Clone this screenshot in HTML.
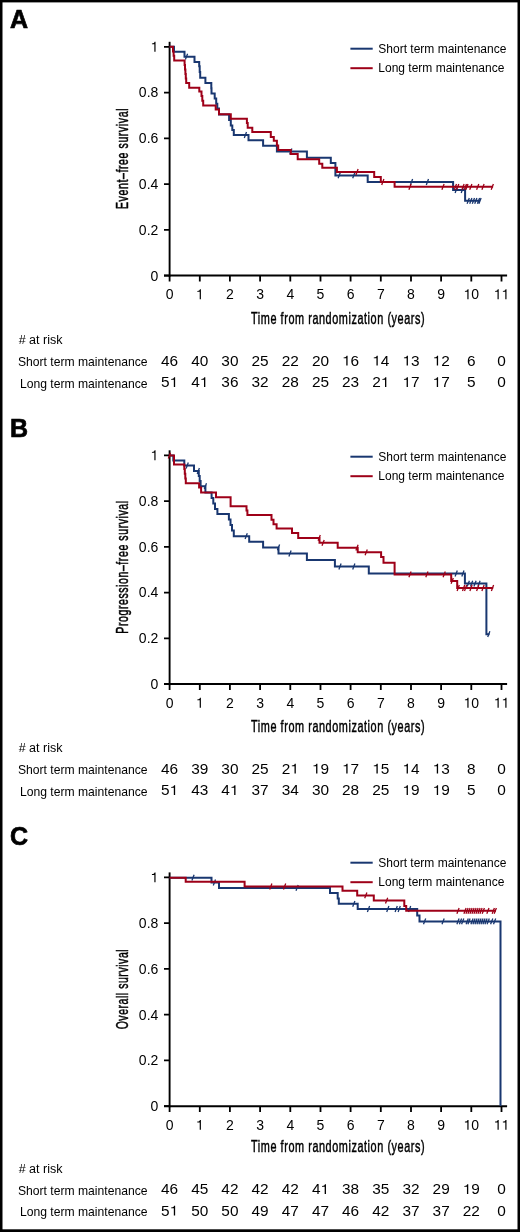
<!DOCTYPE html>
<html><head><meta charset="utf-8"><style>
html,body{margin:0;padding:0;background:#fff;overflow:hidden;}
svg{display:block;will-change:transform;}
text{opacity:0.999;font-family:"Liberation Sans", sans-serif;fill:#000;}
.c{font-weight:normal;stroke:#000;stroke-width:0.5px;letter-spacing:0.9px;}
</style></head><body>
<svg width="520" height="1232" viewBox="0 0 520 1232">
<rect x="0" y="0" width="520" height="1232" fill="#000"/>
<rect x="2.5" y="2.4" width="515.0" height="1226.9" fill="#fff"/>
<text x="10.0" y="28.1" font-size="25" font-weight="bold" stroke="#000" stroke-width="0.7">A</text>
<line x1="350.4" y1="48.7" x2="372.7" y2="48.7" stroke="#193770" stroke-width="2"/>
<line x1="350.4" y1="68.2" x2="372.7" y2="68.2" stroke="#9e0018" stroke-width="2"/>
<text x="378.3" y="52.9" font-size="12">Short term maintenance</text>
<text x="378.3" y="72.3" font-size="12">Long term maintenance</text>
<line x1="169.6" y1="41.8" x2="169.6" y2="276.6" stroke="#000" stroke-width="1.9"/>
<line x1="164" y1="275.6" x2="507.1" y2="275.6" stroke="#000" stroke-width="2"/>
<g transform="translate(158.30,280.50) scale(1.0,1)"><text x="-7.79" y="0" font-size="14">0</text></g>
<g transform="translate(158.30,234.74) scale(1.0,1)"><text x="-19.46" y="0" font-size="14">0</text><text x="-11.68" y="0" font-size="14">.</text><text x="-7.79" y="0" font-size="14">2</text></g>
<g transform="translate(158.30,188.98) scale(1.0,1)"><text x="-19.46" y="0" font-size="14">0</text><text x="-11.68" y="0" font-size="14">.</text><text x="-7.79" y="0" font-size="14">4</text></g>
<g transform="translate(158.30,143.22) scale(1.0,1)"><text x="-19.46" y="0" font-size="14">0</text><text x="-11.68" y="0" font-size="14">.</text><text x="-7.79" y="0" font-size="14">6</text></g>
<g transform="translate(158.30,97.46) scale(1.0,1)"><text x="-19.46" y="0" font-size="14">0</text><text x="-11.68" y="0" font-size="14">.</text><text x="-7.79" y="0" font-size="14">8</text></g>
<g transform="translate(158.30,51.70) scale(1.0,1)"><path d="M-2.76,0.00L-2.76,-9.84L-3.70,-9.84L-4.12,-8.96L-4.99,-8.40L-6.37,-8.19L-6.37,-7.35L-3.95,-7.35L-3.95,0.00Z" fill="#000"/></g>
<g transform="translate(169.60,299.20) scale(1.0,1)"><text x="-3.89" y="0" font-size="14">0</text></g>
<g transform="translate(199.77,299.20) scale(1.0,1)"><path d="M1.13,0.00L1.13,-9.84L0.19,-9.84L-0.23,-8.96L-1.09,-8.40L-2.48,-8.19L-2.48,-7.35L-0.06,-7.35L-0.06,0.00Z" fill="#000"/></g>
<g transform="translate(229.94,299.20) scale(1.0,1)"><text x="-3.89" y="0" font-size="14">2</text></g>
<g transform="translate(260.11,299.20) scale(1.0,1)"><text x="-3.89" y="0" font-size="14">3</text></g>
<g transform="translate(290.28,299.20) scale(1.0,1)"><text x="-3.89" y="0" font-size="14">4</text></g>
<g transform="translate(320.45,299.20) scale(1.0,1)"><text x="-3.89" y="0" font-size="14">5</text></g>
<g transform="translate(350.62,299.20) scale(1.0,1)"><text x="-3.89" y="0" font-size="14">6</text></g>
<g transform="translate(380.79,299.20) scale(1.0,1)"><text x="-3.89" y="0" font-size="14">7</text></g>
<g transform="translate(410.96,299.20) scale(1.0,1)"><text x="-3.89" y="0" font-size="14">8</text></g>
<g transform="translate(441.13,299.20) scale(1.0,1)"><text x="-3.89" y="0" font-size="14">9</text></g>
<g transform="translate(471.30,299.20) scale(1.0,1)"><text x="0.00" y="0" font-size="14">0</text><path d="M-2.76,0.00L-2.76,-9.84L-3.70,-9.84L-4.12,-8.96L-4.99,-8.40L-6.37,-8.19L-6.37,-7.35L-3.95,-7.35L-3.95,0.00Z" fill="#000"/></g>
<g transform="translate(501.47,299.20) scale(1.0,1)"><path d="M-2.76,0.00L-2.76,-9.84L-3.70,-9.84L-4.12,-8.96L-4.99,-8.40L-6.37,-8.19L-6.37,-7.35L-3.95,-7.35L-3.95,0.00ZM5.03,0.00L5.03,-9.84L4.09,-9.84L3.67,-8.96L2.80,-8.40L1.41,-8.19L1.41,-7.35L3.84,-7.35L3.84,0.00Z" fill="#000"/></g>
<path d="M164,275.6H169.6M164,229.8H169.6M164,184.1H169.6M164,138.3H169.6M164,92.6H169.6M164,46.8H169.6M169.6,275.6V281.4M199.8,275.6V281.4M229.9,275.6V281.4M260.1,275.6V281.4M290.3,275.6V281.4M320.5,275.6V281.4M350.6,275.6V281.4M380.8,275.6V281.4M411.0,275.6V281.4M441.1,275.6V281.4M471.3,275.6V281.4M501.5,275.6V281.4" stroke="#000" stroke-width="1.8" fill="none"/>
<text x="0" y="0" font-size="17" transform="translate(251,323.5) scale(0.639,1)" class="c">Time from randomization (years)</text>
<text x="0" y="0" font-size="17" text-anchor="middle" transform="translate(128,158.5) rotate(-90) scale(0.626,1)" class="c">Event&#8211;free survival</text>
<polyline points="169.6,46.8 174.0,46.8 174.0,51.7 184.5,51.7 184.5,56.7 194.5,56.7 194.5,62.0 199.2,62.0 199.2,66.3 199.7,66.3 199.7,72.0 200.2,72.0 200.2,77.7 205.4,77.7 205.4,83.0 211.3,83.0 211.3,88.3 211.5,88.3 211.5,93.5 214.7,93.5 214.7,98.5 216.2,98.5 216.2,103.8 217.3,103.8 217.3,108.6 219.0,108.6 219.0,114.5 229.1,114.5 229.1,120.0 230.8,120.0 230.8,125.4 232.3,125.4 232.3,130.0 233.8,130.0 233.8,135.0 248.5,135.0 248.5,140.3 263.1,140.3 263.1,145.8 276.9,145.8 276.9,151.5 306.9,151.5 306.9,157.7 330.8,157.7 330.8,163.1 335.4,163.1 335.4,175.4 367.7,175.4 367.7,182.0 453.1,182.0 453.1,190.0 465.1,190.0 465.1,200.8 480.0,200.8" stroke="#193770" stroke-width="2" fill="none" stroke-linejoin="miter" stroke-linecap="butt"/>
<path d="M185.4,59.6L187.6,53.8M244.3,137.9L246.5,132.1M289.7,154.4L291.9,148.6M338.1,178.3L340.3,172.5M352.7,178.3L354.9,172.5M410.4,184.9L412.6,179.1M426.3,184.9L428.5,179.1M455.1,192.9L457.3,187.1M461.2,192.9L463.4,187.1M467.1,203.7L469.3,197.9M469.7,203.7L471.9,197.9M472.3,203.7L474.5,197.9M474.7,203.7L476.9,197.9M477.4,203.7L479.6,197.9M478.9,203.7L481.1,197.9" stroke="#193770" stroke-width="1.3" fill="none"/>
<polyline points="169.6,46.8 173.0,46.8 173.0,51.4 173.6,51.4 173.6,55.8 174.2,55.8 174.2,60.4 184.6,60.4 184.6,65.0 185.0,65.0 185.0,69.5 185.4,69.5 185.4,74.0 185.8,74.0 185.8,78.5 186.2,78.5 186.2,83.0 189.2,83.0 189.2,87.7 199.3,87.7 199.3,91.5 201.5,91.5 201.5,96.0 202.3,96.0 202.3,100.7 203.2,100.7 203.2,105.4 215.7,105.4 215.7,109.5 219.0,109.5 219.0,114.3 230.8,114.3 230.8,118.7 246.9,118.7 246.9,123.0 247.7,123.0 247.7,127.7 252.3,127.7 252.3,132.0 270.8,132.0 270.8,136.9 273.8,136.9 273.8,140.8 276.9,140.8 276.9,145.4 278.2,145.4 278.2,150.0 290.8,150.0 290.8,154.0 297.7,154.0 297.7,159.2 319.2,159.2 319.2,163.8 322.3,163.8 322.3,167.7 336.9,167.7 336.9,172.0 374.2,172.0 374.2,176.9 380.8,176.9 380.8,182.0 394.6,182.0 394.6,186.8 493.1,186.8" stroke="#9e0018" stroke-width="2" fill="none" stroke-linejoin="miter" stroke-linecap="butt"/>
<path d="M355.9,174.9L358.1,169.1M381.7,184.9L383.9,179.1M408.9,189.7L411.1,183.9M441.9,189.7L444.1,183.9M454.3,189.7L456.5,183.9M456.6,189.7L458.8,183.9M461.9,189.7L464.1,183.9M464.3,189.7L466.5,183.9M465.8,189.7L468.0,183.9M469.7,189.7L471.9,183.9M476.6,189.7L478.8,183.9M481.9,189.7L484.1,183.9M491.2,189.7L493.4,183.9" stroke="#9e0018" stroke-width="1.3" fill="none"/>
<text x="18.7" y="344.2" font-size="12.5"># at risk</text>
<text x="147.5" y="366.1" font-size="12.15" text-anchor="end">Short term maintenance</text>
<text x="147.5" y="387.7" font-size="12.15" text-anchor="end">Long term maintenance</text>
<g transform="translate(169.60,365.60) scale(1.1,1)"><text x="-7.79" y="0" font-size="14">4</text><text x="0.00" y="0" font-size="14">6</text></g>
<g transform="translate(199.77,365.60) scale(1.1,1)"><text x="-7.79" y="0" font-size="14">4</text><text x="0.00" y="0" font-size="14">0</text></g>
<g transform="translate(229.94,365.60) scale(1.1,1)"><text x="-7.79" y="0" font-size="14">3</text><text x="0.00" y="0" font-size="14">0</text></g>
<g transform="translate(260.11,365.60) scale(1.1,1)"><text x="-7.79" y="0" font-size="14">2</text><text x="0.00" y="0" font-size="14">5</text></g>
<g transform="translate(290.28,365.60) scale(1.1,1)"><text x="-7.79" y="0" font-size="14">2</text><text x="0.00" y="0" font-size="14">2</text></g>
<g transform="translate(320.45,365.60) scale(1.1,1)"><text x="-7.79" y="0" font-size="14">2</text><text x="0.00" y="0" font-size="14">0</text></g>
<g transform="translate(350.62,365.60) scale(1.1,1)"><text x="0.00" y="0" font-size="14">6</text><path d="M-2.76,0.00L-2.76,-9.84L-3.70,-9.84L-4.12,-8.96L-4.99,-8.40L-6.37,-8.19L-6.37,-7.35L-3.95,-7.35L-3.95,0.00Z" fill="#000"/></g>
<g transform="translate(380.79,365.60) scale(1.1,1)"><text x="0.00" y="0" font-size="14">4</text><path d="M-2.76,0.00L-2.76,-9.84L-3.70,-9.84L-4.12,-8.96L-4.99,-8.40L-6.37,-8.19L-6.37,-7.35L-3.95,-7.35L-3.95,0.00Z" fill="#000"/></g>
<g transform="translate(410.96,365.60) scale(1.1,1)"><text x="0.00" y="0" font-size="14">3</text><path d="M-2.76,0.00L-2.76,-9.84L-3.70,-9.84L-4.12,-8.96L-4.99,-8.40L-6.37,-8.19L-6.37,-7.35L-3.95,-7.35L-3.95,0.00Z" fill="#000"/></g>
<g transform="translate(441.13,365.60) scale(1.1,1)"><text x="0.00" y="0" font-size="14">2</text><path d="M-2.76,0.00L-2.76,-9.84L-3.70,-9.84L-4.12,-8.96L-4.99,-8.40L-6.37,-8.19L-6.37,-7.35L-3.95,-7.35L-3.95,0.00Z" fill="#000"/></g>
<g transform="translate(471.30,365.60) scale(1.1,1)"><text x="-3.89" y="0" font-size="14">6</text></g>
<g transform="translate(501.47,365.60) scale(1.1,1)"><text x="-3.89" y="0" font-size="14">0</text></g>
<g transform="translate(169.60,387.10) scale(1.1,1)"><text x="-7.79" y="0" font-size="14">5</text><path d="M5.03,0.00L5.03,-9.84L4.09,-9.84L3.67,-8.96L2.80,-8.40L1.41,-8.19L1.41,-7.35L3.84,-7.35L3.84,0.00Z" fill="#000"/></g>
<g transform="translate(199.77,387.10) scale(1.1,1)"><text x="-7.79" y="0" font-size="14">4</text><path d="M5.03,0.00L5.03,-9.84L4.09,-9.84L3.67,-8.96L2.80,-8.40L1.41,-8.19L1.41,-7.35L3.84,-7.35L3.84,0.00Z" fill="#000"/></g>
<g transform="translate(229.94,387.10) scale(1.1,1)"><text x="-7.79" y="0" font-size="14">3</text><text x="0.00" y="0" font-size="14">6</text></g>
<g transform="translate(260.11,387.10) scale(1.1,1)"><text x="-7.79" y="0" font-size="14">3</text><text x="0.00" y="0" font-size="14">2</text></g>
<g transform="translate(290.28,387.10) scale(1.1,1)"><text x="-7.79" y="0" font-size="14">2</text><text x="0.00" y="0" font-size="14">8</text></g>
<g transform="translate(320.45,387.10) scale(1.1,1)"><text x="-7.79" y="0" font-size="14">2</text><text x="0.00" y="0" font-size="14">5</text></g>
<g transform="translate(350.62,387.10) scale(1.1,1)"><text x="-7.79" y="0" font-size="14">2</text><text x="0.00" y="0" font-size="14">3</text></g>
<g transform="translate(380.79,387.10) scale(1.1,1)"><text x="-7.79" y="0" font-size="14">2</text><path d="M5.03,0.00L5.03,-9.84L4.09,-9.84L3.67,-8.96L2.80,-8.40L1.41,-8.19L1.41,-7.35L3.84,-7.35L3.84,0.00Z" fill="#000"/></g>
<g transform="translate(410.96,387.10) scale(1.1,1)"><text x="0.00" y="0" font-size="14">7</text><path d="M-2.76,0.00L-2.76,-9.84L-3.70,-9.84L-4.12,-8.96L-4.99,-8.40L-6.37,-8.19L-6.37,-7.35L-3.95,-7.35L-3.95,0.00Z" fill="#000"/></g>
<g transform="translate(441.13,387.10) scale(1.1,1)"><text x="0.00" y="0" font-size="14">7</text><path d="M-2.76,0.00L-2.76,-9.84L-3.70,-9.84L-4.12,-8.96L-4.99,-8.40L-6.37,-8.19L-6.37,-7.35L-3.95,-7.35L-3.95,0.00Z" fill="#000"/></g>
<g transform="translate(471.30,387.10) scale(1.1,1)"><text x="-3.89" y="0" font-size="14">5</text></g>
<g transform="translate(501.47,387.10) scale(1.1,1)"><text x="-3.89" y="0" font-size="14">0</text></g>
<text x="10.0" y="436.7" font-size="25" font-weight="bold" stroke="#000" stroke-width="0.7">B</text>
<line x1="350.4" y1="456.7" x2="372.7" y2="456.7" stroke="#193770" stroke-width="2"/>
<line x1="350.4" y1="476.2" x2="372.7" y2="476.2" stroke="#9e0018" stroke-width="2"/>
<text x="378.3" y="460.9" font-size="12">Short term maintenance</text>
<text x="378.3" y="480.3" font-size="12">Long term maintenance</text>
<line x1="169.6" y1="450.3" x2="169.6" y2="685.1" stroke="#000" stroke-width="1.9"/>
<line x1="164" y1="684.1" x2="507.1" y2="684.1" stroke="#000" stroke-width="2"/>
<g transform="translate(158.30,689.00) scale(1.0,1)"><text x="-7.79" y="0" font-size="14">0</text></g>
<g transform="translate(158.30,643.24) scale(1.0,1)"><text x="-19.46" y="0" font-size="14">0</text><text x="-11.68" y="0" font-size="14">.</text><text x="-7.79" y="0" font-size="14">2</text></g>
<g transform="translate(158.30,597.48) scale(1.0,1)"><text x="-19.46" y="0" font-size="14">0</text><text x="-11.68" y="0" font-size="14">.</text><text x="-7.79" y="0" font-size="14">4</text></g>
<g transform="translate(158.30,551.72) scale(1.0,1)"><text x="-19.46" y="0" font-size="14">0</text><text x="-11.68" y="0" font-size="14">.</text><text x="-7.79" y="0" font-size="14">6</text></g>
<g transform="translate(158.30,505.96) scale(1.0,1)"><text x="-19.46" y="0" font-size="14">0</text><text x="-11.68" y="0" font-size="14">.</text><text x="-7.79" y="0" font-size="14">8</text></g>
<g transform="translate(158.30,460.20) scale(1.0,1)"><path d="M-2.76,0.00L-2.76,-9.84L-3.70,-9.84L-4.12,-8.96L-4.99,-8.40L-6.37,-8.19L-6.37,-7.35L-3.95,-7.35L-3.95,0.00Z" fill="#000"/></g>
<g transform="translate(169.60,707.70) scale(1.0,1)"><text x="-3.89" y="0" font-size="14">0</text></g>
<g transform="translate(199.77,707.70) scale(1.0,1)"><path d="M1.13,0.00L1.13,-9.84L0.19,-9.84L-0.23,-8.96L-1.09,-8.40L-2.48,-8.19L-2.48,-7.35L-0.06,-7.35L-0.06,0.00Z" fill="#000"/></g>
<g transform="translate(229.94,707.70) scale(1.0,1)"><text x="-3.89" y="0" font-size="14">2</text></g>
<g transform="translate(260.11,707.70) scale(1.0,1)"><text x="-3.89" y="0" font-size="14">3</text></g>
<g transform="translate(290.28,707.70) scale(1.0,1)"><text x="-3.89" y="0" font-size="14">4</text></g>
<g transform="translate(320.45,707.70) scale(1.0,1)"><text x="-3.89" y="0" font-size="14">5</text></g>
<g transform="translate(350.62,707.70) scale(1.0,1)"><text x="-3.89" y="0" font-size="14">6</text></g>
<g transform="translate(380.79,707.70) scale(1.0,1)"><text x="-3.89" y="0" font-size="14">7</text></g>
<g transform="translate(410.96,707.70) scale(1.0,1)"><text x="-3.89" y="0" font-size="14">8</text></g>
<g transform="translate(441.13,707.70) scale(1.0,1)"><text x="-3.89" y="0" font-size="14">9</text></g>
<g transform="translate(471.30,707.70) scale(1.0,1)"><text x="0.00" y="0" font-size="14">0</text><path d="M-2.76,0.00L-2.76,-9.84L-3.70,-9.84L-4.12,-8.96L-4.99,-8.40L-6.37,-8.19L-6.37,-7.35L-3.95,-7.35L-3.95,0.00Z" fill="#000"/></g>
<g transform="translate(501.47,707.70) scale(1.0,1)"><path d="M-2.76,0.00L-2.76,-9.84L-3.70,-9.84L-4.12,-8.96L-4.99,-8.40L-6.37,-8.19L-6.37,-7.35L-3.95,-7.35L-3.95,0.00ZM5.03,0.00L5.03,-9.84L4.09,-9.84L3.67,-8.96L2.80,-8.40L1.41,-8.19L1.41,-7.35L3.84,-7.35L3.84,0.00Z" fill="#000"/></g>
<path d="M164,684.1H169.6M164,638.3H169.6M164,592.6H169.6M164,546.8H169.6M164,501.1H169.6M164,455.3H169.6M169.6,684.1V689.9M199.8,684.1V689.9M229.9,684.1V689.9M260.1,684.1V689.9M290.3,684.1V689.9M320.5,684.1V689.9M350.6,684.1V689.9M380.8,684.1V689.9M411.0,684.1V689.9M441.1,684.1V689.9M471.3,684.1V689.9M501.5,684.1V689.9" stroke="#000" stroke-width="1.8" fill="none"/>
<text x="0" y="0" font-size="17" transform="translate(251,731.5) scale(0.639,1)" class="c">Time from randomization (years)</text>
<text x="0" y="0" font-size="17" text-anchor="middle" transform="translate(128,567.0) rotate(-90) scale(0.6227,1)" class="c">Progression&#8211;free survival</text>
<polyline points="169.6,455.6 173.3,455.6 173.3,460.6 184.3,460.6 184.3,465.5 194.0,465.5 194.0,471.0 198.8,471.0 198.8,476.0 199.7,476.0 199.7,481.0 200.6,481.0 200.6,486.2 205.4,486.2 205.4,492.5 211.6,492.5 211.6,498.0 213.3,498.0 213.3,503.5 215.0,503.5 215.0,509.0 217.4,509.0 217.4,514.0 228.9,514.0 228.9,519.5 230.5,519.5 230.5,525.0 232.0,525.0 232.0,530.5 233.8,530.5 233.8,536.2 249.2,536.2 249.2,541.8 263.1,541.8 263.1,547.4 278.5,547.4 278.5,553.5 306.9,553.5 306.9,560.0 334.9,560.0 334.9,566.5 368.8,566.5 368.8,573.5 464.9,573.5 464.9,583.6 486.4,583.6 486.4,634.2 489.5,634.2" stroke="#193770" stroke-width="2" fill="none" stroke-linejoin="miter" stroke-linecap="butt"/>
<path d="M186.1,468.4L188.3,462.6M197.2,473.9L199.4,468.1M204.3,489.1L206.5,483.3M245.1,539.1L247.3,533.3M277.4,550.3L279.6,544.5M288.9,556.4L291.1,550.6M338.9,569.4L341.1,563.6M352.7,569.4L354.9,563.6M455.1,576.4L457.3,570.6M461.8,576.4L464.0,570.6M467.2,586.5L469.4,580.7M470.5,586.5L472.7,580.7M473.9,586.5L476.1,580.7M477.9,586.5L480.1,580.7M487.7,637.1L489.9,631.3" stroke="#193770" stroke-width="1.3" fill="none"/>
<polyline points="169.6,455.6 174.0,455.6 174.0,464.4 184.3,464.4 184.3,469.0 184.8,469.0 184.8,473.7 185.3,473.7 185.3,478.4 185.8,478.4 185.8,483.3 199.1,483.3 199.1,487.6 201.1,487.6 201.1,492.6 216.0,492.6 216.0,497.2 230.6,497.2 230.6,506.2 246.5,506.2 246.5,510.5 247.4,510.5 247.4,515.1 271.5,515.1 271.5,519.7 273.5,519.7 273.5,524.3 276.6,524.3 276.6,528.5 292.0,528.5 292.0,533.1 298.2,533.1 298.2,537.9 319.5,537.9 319.5,542.8 337.7,542.8 337.7,547.7 357.7,547.7 357.7,552.3 381.1,552.3 381.1,557.0 383.5,557.0 383.5,562.8 394.6,562.8 394.6,574.4 451.2,574.4 451.2,580.9 457.2,580.9 457.2,588.0 493.2,588.0" stroke="#9e0018" stroke-width="2" fill="none" stroke-linejoin="miter" stroke-linecap="butt"/>
<path d="M168.3,458.5L170.5,452.7M318.1,540.8L320.3,535.0M322.0,545.7L324.2,539.9M355.9,550.6L358.1,544.8M365.1,555.2L367.3,549.4M408.9,577.3L411.1,571.5M425.8,577.3L428.0,571.5M443.1,577.3L445.3,571.5M451.1,583.8L453.3,578.0M457.1,590.9L459.3,585.1M462.5,590.9L464.7,585.1M464.5,590.9L466.7,585.1M469.9,590.9L472.1,585.1M476.6,590.9L478.8,585.1M481.9,590.9L484.1,585.1M491.4,590.9L493.6,585.1" stroke="#9e0018" stroke-width="1.3" fill="none"/>
<text x="18.7" y="752.2" font-size="12.5"># at risk</text>
<text x="147.5" y="774.1" font-size="12.15" text-anchor="end">Short term maintenance</text>
<text x="147.5" y="795.7" font-size="12.15" text-anchor="end">Long term maintenance</text>
<g transform="translate(169.60,773.60) scale(1.1,1)"><text x="-7.79" y="0" font-size="14">4</text><text x="0.00" y="0" font-size="14">6</text></g>
<g transform="translate(199.77,773.60) scale(1.1,1)"><text x="-7.79" y="0" font-size="14">3</text><text x="0.00" y="0" font-size="14">9</text></g>
<g transform="translate(229.94,773.60) scale(1.1,1)"><text x="-7.79" y="0" font-size="14">3</text><text x="0.00" y="0" font-size="14">0</text></g>
<g transform="translate(260.11,773.60) scale(1.1,1)"><text x="-7.79" y="0" font-size="14">2</text><text x="0.00" y="0" font-size="14">5</text></g>
<g transform="translate(290.28,773.60) scale(1.1,1)"><text x="-7.79" y="0" font-size="14">2</text><path d="M5.03,0.00L5.03,-9.84L4.09,-9.84L3.67,-8.96L2.80,-8.40L1.41,-8.19L1.41,-7.35L3.84,-7.35L3.84,0.00Z" fill="#000"/></g>
<g transform="translate(320.45,773.60) scale(1.1,1)"><text x="0.00" y="0" font-size="14">9</text><path d="M-2.76,0.00L-2.76,-9.84L-3.70,-9.84L-4.12,-8.96L-4.99,-8.40L-6.37,-8.19L-6.37,-7.35L-3.95,-7.35L-3.95,0.00Z" fill="#000"/></g>
<g transform="translate(350.62,773.60) scale(1.1,1)"><text x="0.00" y="0" font-size="14">7</text><path d="M-2.76,0.00L-2.76,-9.84L-3.70,-9.84L-4.12,-8.96L-4.99,-8.40L-6.37,-8.19L-6.37,-7.35L-3.95,-7.35L-3.95,0.00Z" fill="#000"/></g>
<g transform="translate(380.79,773.60) scale(1.1,1)"><text x="0.00" y="0" font-size="14">5</text><path d="M-2.76,0.00L-2.76,-9.84L-3.70,-9.84L-4.12,-8.96L-4.99,-8.40L-6.37,-8.19L-6.37,-7.35L-3.95,-7.35L-3.95,0.00Z" fill="#000"/></g>
<g transform="translate(410.96,773.60) scale(1.1,1)"><text x="0.00" y="0" font-size="14">4</text><path d="M-2.76,0.00L-2.76,-9.84L-3.70,-9.84L-4.12,-8.96L-4.99,-8.40L-6.37,-8.19L-6.37,-7.35L-3.95,-7.35L-3.95,0.00Z" fill="#000"/></g>
<g transform="translate(441.13,773.60) scale(1.1,1)"><text x="0.00" y="0" font-size="14">3</text><path d="M-2.76,0.00L-2.76,-9.84L-3.70,-9.84L-4.12,-8.96L-4.99,-8.40L-6.37,-8.19L-6.37,-7.35L-3.95,-7.35L-3.95,0.00Z" fill="#000"/></g>
<g transform="translate(471.30,773.60) scale(1.1,1)"><text x="-3.89" y="0" font-size="14">8</text></g>
<g transform="translate(501.47,773.60) scale(1.1,1)"><text x="-3.89" y="0" font-size="14">0</text></g>
<g transform="translate(169.60,795.10) scale(1.1,1)"><text x="-7.79" y="0" font-size="14">5</text><path d="M5.03,0.00L5.03,-9.84L4.09,-9.84L3.67,-8.96L2.80,-8.40L1.41,-8.19L1.41,-7.35L3.84,-7.35L3.84,0.00Z" fill="#000"/></g>
<g transform="translate(199.77,795.10) scale(1.1,1)"><text x="-7.79" y="0" font-size="14">4</text><text x="0.00" y="0" font-size="14">3</text></g>
<g transform="translate(229.94,795.10) scale(1.1,1)"><text x="-7.79" y="0" font-size="14">4</text><path d="M5.03,0.00L5.03,-9.84L4.09,-9.84L3.67,-8.96L2.80,-8.40L1.41,-8.19L1.41,-7.35L3.84,-7.35L3.84,0.00Z" fill="#000"/></g>
<g transform="translate(260.11,795.10) scale(1.1,1)"><text x="-7.79" y="0" font-size="14">3</text><text x="0.00" y="0" font-size="14">7</text></g>
<g transform="translate(290.28,795.10) scale(1.1,1)"><text x="-7.79" y="0" font-size="14">3</text><text x="0.00" y="0" font-size="14">4</text></g>
<g transform="translate(320.45,795.10) scale(1.1,1)"><text x="-7.79" y="0" font-size="14">3</text><text x="0.00" y="0" font-size="14">0</text></g>
<g transform="translate(350.62,795.10) scale(1.1,1)"><text x="-7.79" y="0" font-size="14">2</text><text x="0.00" y="0" font-size="14">8</text></g>
<g transform="translate(380.79,795.10) scale(1.1,1)"><text x="-7.79" y="0" font-size="14">2</text><text x="0.00" y="0" font-size="14">5</text></g>
<g transform="translate(410.96,795.10) scale(1.1,1)"><text x="0.00" y="0" font-size="14">9</text><path d="M-2.76,0.00L-2.76,-9.84L-3.70,-9.84L-4.12,-8.96L-4.99,-8.40L-6.37,-8.19L-6.37,-7.35L-3.95,-7.35L-3.95,0.00Z" fill="#000"/></g>
<g transform="translate(441.13,795.10) scale(1.1,1)"><text x="0.00" y="0" font-size="14">9</text><path d="M-2.76,0.00L-2.76,-9.84L-3.70,-9.84L-4.12,-8.96L-4.99,-8.40L-6.37,-8.19L-6.37,-7.35L-3.95,-7.35L-3.95,0.00Z" fill="#000"/></g>
<g transform="translate(471.30,795.10) scale(1.1,1)"><text x="-3.89" y="0" font-size="14">5</text></g>
<g transform="translate(501.47,795.10) scale(1.1,1)"><text x="-3.89" y="0" font-size="14">0</text></g>
<text x="10.0" y="844.6" font-size="25" font-weight="bold" stroke="#000" stroke-width="0.7">C</text>
<line x1="350.4" y1="862.7" x2="372.7" y2="862.7" stroke="#193770" stroke-width="2"/>
<line x1="350.4" y1="882.2" x2="372.7" y2="882.2" stroke="#9e0018" stroke-width="2"/>
<text x="378.3" y="866.9" font-size="12">Short term maintenance</text>
<text x="378.3" y="886.3" font-size="12">Long term maintenance</text>
<line x1="169.6" y1="872.4" x2="169.6" y2="1107.2" stroke="#000" stroke-width="1.9"/>
<line x1="164" y1="1106.2" x2="507.1" y2="1106.2" stroke="#000" stroke-width="2"/>
<g transform="translate(158.30,1111.10) scale(1.0,1)"><text x="-7.79" y="0" font-size="14">0</text></g>
<g transform="translate(158.30,1065.34) scale(1.0,1)"><text x="-19.46" y="0" font-size="14">0</text><text x="-11.68" y="0" font-size="14">.</text><text x="-7.79" y="0" font-size="14">2</text></g>
<g transform="translate(158.30,1019.58) scale(1.0,1)"><text x="-19.46" y="0" font-size="14">0</text><text x="-11.68" y="0" font-size="14">.</text><text x="-7.79" y="0" font-size="14">4</text></g>
<g transform="translate(158.30,973.82) scale(1.0,1)"><text x="-19.46" y="0" font-size="14">0</text><text x="-11.68" y="0" font-size="14">.</text><text x="-7.79" y="0" font-size="14">6</text></g>
<g transform="translate(158.30,928.06) scale(1.0,1)"><text x="-19.46" y="0" font-size="14">0</text><text x="-11.68" y="0" font-size="14">.</text><text x="-7.79" y="0" font-size="14">8</text></g>
<g transform="translate(158.30,882.30) scale(1.0,1)"><path d="M-2.76,0.00L-2.76,-9.84L-3.70,-9.84L-4.12,-8.96L-4.99,-8.40L-6.37,-8.19L-6.37,-7.35L-3.95,-7.35L-3.95,0.00Z" fill="#000"/></g>
<g transform="translate(169.60,1129.80) scale(1.0,1)"><text x="-3.89" y="0" font-size="14">0</text></g>
<g transform="translate(199.77,1129.80) scale(1.0,1)"><path d="M1.13,0.00L1.13,-9.84L0.19,-9.84L-0.23,-8.96L-1.09,-8.40L-2.48,-8.19L-2.48,-7.35L-0.06,-7.35L-0.06,0.00Z" fill="#000"/></g>
<g transform="translate(229.94,1129.80) scale(1.0,1)"><text x="-3.89" y="0" font-size="14">2</text></g>
<g transform="translate(260.11,1129.80) scale(1.0,1)"><text x="-3.89" y="0" font-size="14">3</text></g>
<g transform="translate(290.28,1129.80) scale(1.0,1)"><text x="-3.89" y="0" font-size="14">4</text></g>
<g transform="translate(320.45,1129.80) scale(1.0,1)"><text x="-3.89" y="0" font-size="14">5</text></g>
<g transform="translate(350.62,1129.80) scale(1.0,1)"><text x="-3.89" y="0" font-size="14">6</text></g>
<g transform="translate(380.79,1129.80) scale(1.0,1)"><text x="-3.89" y="0" font-size="14">7</text></g>
<g transform="translate(410.96,1129.80) scale(1.0,1)"><text x="-3.89" y="0" font-size="14">8</text></g>
<g transform="translate(441.13,1129.80) scale(1.0,1)"><text x="-3.89" y="0" font-size="14">9</text></g>
<g transform="translate(471.30,1129.80) scale(1.0,1)"><text x="0.00" y="0" font-size="14">0</text><path d="M-2.76,0.00L-2.76,-9.84L-3.70,-9.84L-4.12,-8.96L-4.99,-8.40L-6.37,-8.19L-6.37,-7.35L-3.95,-7.35L-3.95,0.00Z" fill="#000"/></g>
<g transform="translate(501.47,1129.80) scale(1.0,1)"><path d="M-2.76,0.00L-2.76,-9.84L-3.70,-9.84L-4.12,-8.96L-4.99,-8.40L-6.37,-8.19L-6.37,-7.35L-3.95,-7.35L-3.95,0.00ZM5.03,0.00L5.03,-9.84L4.09,-9.84L3.67,-8.96L2.80,-8.40L1.41,-8.19L1.41,-7.35L3.84,-7.35L3.84,0.00Z" fill="#000"/></g>
<path d="M164,1106.2H169.6M164,1060.4H169.6M164,1014.7H169.6M164,968.9H169.6M164,923.2H169.6M164,877.4H169.6M169.6,1106.2V1112.0M199.8,1106.2V1112.0M229.9,1106.2V1112.0M260.1,1106.2V1112.0M290.3,1106.2V1112.0M320.5,1106.2V1112.0M350.6,1106.2V1112.0M380.8,1106.2V1112.0M411.0,1106.2V1112.0M441.1,1106.2V1112.0M471.3,1106.2V1112.0M501.5,1106.2V1112.0" stroke="#000" stroke-width="1.8" fill="none"/>
<text x="0" y="0" font-size="17" transform="translate(251,1152.0) scale(0.639,1)" class="c">Time from randomization (years)</text>
<text x="0" y="0" font-size="17" text-anchor="middle" transform="translate(128,989.1) rotate(-90) scale(0.617,1)" class="c">Overall survival</text>
<polyline points="169.6,877.7 211.5,877.7 211.5,882.5 219.0,882.5 219.0,887.9 330.0,887.9 330.0,893.1 337.7,893.1 337.7,898.5 338.8,898.5 338.8,903.8 357.7,903.8 357.7,909.0 417.2,909.0 417.2,915.4 419.5,915.4 419.5,921.4 500.5,921.4 500.5,1105.9 500.5,1105.9" stroke="#193770" stroke-width="2" fill="none" stroke-linejoin="miter" stroke-linecap="butt"/>
<path d="M191.9,880.6L194.1,874.8M213.3,885.4L215.5,879.6M296.0,890.8L298.2,885.0M352.7,906.7L354.9,900.9M367.4,911.9L369.6,906.1M386.7,911.9L388.9,906.1M395.1,911.9L397.3,906.1M398.1,911.9L400.3,906.1M408.5,911.9L410.7,906.1M423.5,924.3L425.7,918.5M442.0,924.3L444.2,918.5M456.9,924.3L459.1,918.5M459.4,924.3L461.6,918.5M461.6,924.3L463.8,918.5M466.1,924.3L468.3,918.5M467.9,924.3L470.1,918.5M470.9,924.3L473.1,918.5M472.9,924.3L475.1,918.5M474.9,924.3L477.1,918.5M476.9,924.3L479.1,918.5M478.9,924.3L481.1,918.5M480.9,924.3L483.1,918.5M482.9,924.3L485.1,918.5M484.9,924.3L487.1,918.5M487.1,924.3L489.3,918.5M490.6,924.3L492.8,918.5M493.5,924.3L495.7,918.5" stroke="#193770" stroke-width="1.3" fill="none"/>
<polyline points="169.6,877.7 185.7,877.7 185.7,881.7 244.6,881.7 244.6,886.5 342.5,886.5 342.5,890.8 357.2,890.8 357.2,895.4 373.8,895.4 373.8,900.6 404.3,900.6 404.3,906.0 406.2,906.0 406.2,910.8 496.0,910.8" stroke="#9e0018" stroke-width="2" fill="none" stroke-linejoin="miter" stroke-linecap="butt"/>
<path d="M269.7,889.4L271.9,883.6M283.5,889.4L285.7,883.6M364.7,898.3L366.9,892.5M385.5,903.5L387.7,897.7M456.9,913.7L459.1,907.9M463.9,913.7L466.1,907.9M465.9,913.7L468.1,907.9M467.9,913.7L470.1,907.9M469.9,913.7L472.1,907.9M471.9,913.7L474.1,907.9M473.9,913.7L476.1,907.9M475.9,913.7L478.1,907.9M477.9,913.7L480.1,907.9M479.9,913.7L482.1,907.9M482.2,913.7L484.4,907.9M486.8,913.7L489.0,907.9M492.2,913.7L494.4,907.9M494.2,913.7L496.4,907.9" stroke="#9e0018" stroke-width="1.3" fill="none"/>
<text x="18.7" y="1172.7" font-size="12.5"># at risk</text>
<text x="147.5" y="1194.6" font-size="12.15" text-anchor="end">Short term maintenance</text>
<text x="147.5" y="1216.2" font-size="12.15" text-anchor="end">Long term maintenance</text>
<g transform="translate(169.60,1194.10) scale(1.1,1)"><text x="-7.79" y="0" font-size="14">4</text><text x="0.00" y="0" font-size="14">6</text></g>
<g transform="translate(199.77,1194.10) scale(1.1,1)"><text x="-7.79" y="0" font-size="14">4</text><text x="0.00" y="0" font-size="14">5</text></g>
<g transform="translate(229.94,1194.10) scale(1.1,1)"><text x="-7.79" y="0" font-size="14">4</text><text x="0.00" y="0" font-size="14">2</text></g>
<g transform="translate(260.11,1194.10) scale(1.1,1)"><text x="-7.79" y="0" font-size="14">4</text><text x="0.00" y="0" font-size="14">2</text></g>
<g transform="translate(290.28,1194.10) scale(1.1,1)"><text x="-7.79" y="0" font-size="14">4</text><text x="0.00" y="0" font-size="14">2</text></g>
<g transform="translate(320.45,1194.10) scale(1.1,1)"><text x="-7.79" y="0" font-size="14">4</text><path d="M5.03,0.00L5.03,-9.84L4.09,-9.84L3.67,-8.96L2.80,-8.40L1.41,-8.19L1.41,-7.35L3.84,-7.35L3.84,0.00Z" fill="#000"/></g>
<g transform="translate(350.62,1194.10) scale(1.1,1)"><text x="-7.79" y="0" font-size="14">3</text><text x="0.00" y="0" font-size="14">8</text></g>
<g transform="translate(380.79,1194.10) scale(1.1,1)"><text x="-7.79" y="0" font-size="14">3</text><text x="0.00" y="0" font-size="14">5</text></g>
<g transform="translate(410.96,1194.10) scale(1.1,1)"><text x="-7.79" y="0" font-size="14">3</text><text x="0.00" y="0" font-size="14">2</text></g>
<g transform="translate(441.13,1194.10) scale(1.1,1)"><text x="-7.79" y="0" font-size="14">2</text><text x="0.00" y="0" font-size="14">9</text></g>
<g transform="translate(471.30,1194.10) scale(1.1,1)"><text x="0.00" y="0" font-size="14">9</text><path d="M-2.76,0.00L-2.76,-9.84L-3.70,-9.84L-4.12,-8.96L-4.99,-8.40L-6.37,-8.19L-6.37,-7.35L-3.95,-7.35L-3.95,0.00Z" fill="#000"/></g>
<g transform="translate(501.47,1194.10) scale(1.1,1)"><text x="-3.89" y="0" font-size="14">0</text></g>
<g transform="translate(169.60,1215.60) scale(1.1,1)"><text x="-7.79" y="0" font-size="14">5</text><path d="M5.03,0.00L5.03,-9.84L4.09,-9.84L3.67,-8.96L2.80,-8.40L1.41,-8.19L1.41,-7.35L3.84,-7.35L3.84,0.00Z" fill="#000"/></g>
<g transform="translate(199.77,1215.60) scale(1.1,1)"><text x="-7.79" y="0" font-size="14">5</text><text x="0.00" y="0" font-size="14">0</text></g>
<g transform="translate(229.94,1215.60) scale(1.1,1)"><text x="-7.79" y="0" font-size="14">5</text><text x="0.00" y="0" font-size="14">0</text></g>
<g transform="translate(260.11,1215.60) scale(1.1,1)"><text x="-7.79" y="0" font-size="14">4</text><text x="0.00" y="0" font-size="14">9</text></g>
<g transform="translate(290.28,1215.60) scale(1.1,1)"><text x="-7.79" y="0" font-size="14">4</text><text x="0.00" y="0" font-size="14">7</text></g>
<g transform="translate(320.45,1215.60) scale(1.1,1)"><text x="-7.79" y="0" font-size="14">4</text><text x="0.00" y="0" font-size="14">7</text></g>
<g transform="translate(350.62,1215.60) scale(1.1,1)"><text x="-7.79" y="0" font-size="14">4</text><text x="0.00" y="0" font-size="14">6</text></g>
<g transform="translate(380.79,1215.60) scale(1.1,1)"><text x="-7.79" y="0" font-size="14">4</text><text x="0.00" y="0" font-size="14">2</text></g>
<g transform="translate(410.96,1215.60) scale(1.1,1)"><text x="-7.79" y="0" font-size="14">3</text><text x="0.00" y="0" font-size="14">7</text></g>
<g transform="translate(441.13,1215.60) scale(1.1,1)"><text x="-7.79" y="0" font-size="14">3</text><text x="0.00" y="0" font-size="14">7</text></g>
<g transform="translate(471.30,1215.60) scale(1.1,1)"><text x="-7.79" y="0" font-size="14">2</text><text x="0.00" y="0" font-size="14">2</text></g>
<g transform="translate(501.47,1215.60) scale(1.1,1)"><text x="-3.89" y="0" font-size="14">0</text></g>
</svg>
</body></html>
